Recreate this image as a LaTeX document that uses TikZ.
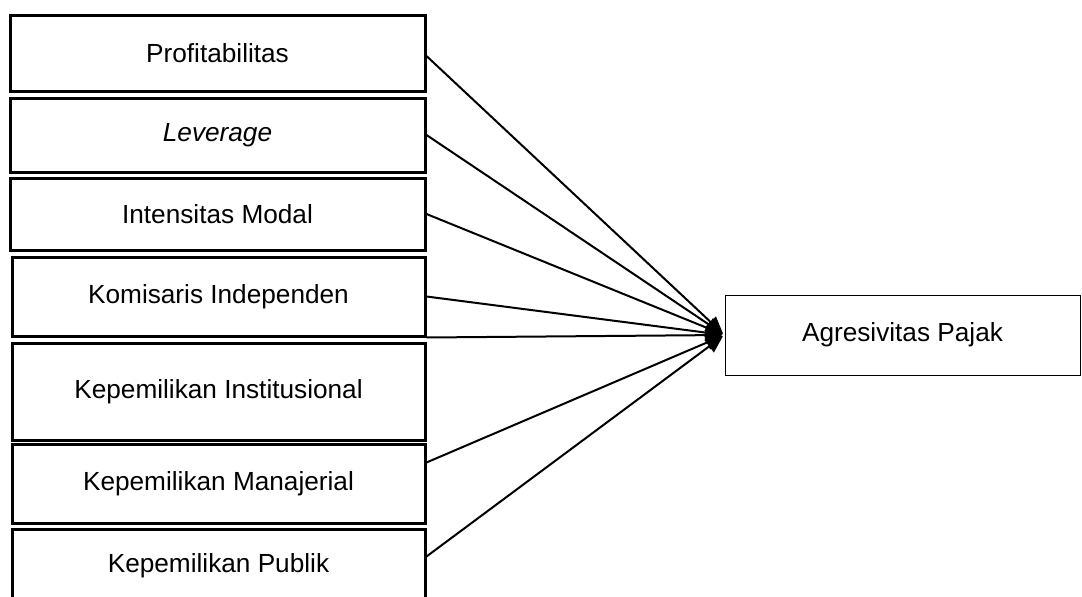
\documentclass[tikz,border=0pt]{standalone}
\usepackage{fontspec}
\setmainfont{Liberation Sans}
\usetikzlibrary{arrows.meta, positioning}
\tikzset{
  every picture/.style={x=1pt, y=-1pt, line width=2pt},
  box/.style={draw, line width=3pt, inner sep=0pt, align=center, font=\fontsize{26.2}{31}\selectfont},
  arrow/.style={-{Triangle[length=17pt, width=15pt]}, line width=2pt, shorten >=2pt},
}

\begin{document}
\begin{tikzpicture}
  \useasboundingbox (0,0) rectangle (1082,597);
  \foreach \nm/\xc/\bw/\yc/\bh/\txt in {prof/217.5/415/53/76/{Profitabilitas}, lev/217.5/415/135/74/{\textit{Leverage}},
                                        int/217.5/415/214/72/{Intensitas Modal}, kom/218.5/413/296.5/79/{Komisaris Independen},
                                        ins/218.5/413/391.5/97/{Kepemilikan Institusional}, man/218.5/413/483.5/79/{Kepemilikan Manajerial},
                                        pub/218.5/413/566/74/{Kepemilikan Publik}} {
    \node[box, minimum width=\bw pt, minimum height=\bh pt] (\nm) at (\xc, \yc) {\txt};
  }
  \node[box, line width=1pt, minimum width=355pt, minimum height=80pt] (agr) at (902.5, 335) {Agresivitas Pajak};
  \draw[arrow] ([yshift=-3pt]prof.east) -- (agr.west);
  \draw[arrow] (lev.east) -- (agr.west);
  \draw[arrow] (int.east) -- (agr.west);
  \draw[arrow] (kom.east) -- (agr.west);
  \draw[arrow] (kom.south east) -- (agr.west);
  \draw[arrow] ([yshift=-20pt]man.north east) -- (agr.west);
  \draw[arrow] ([yshift=-29pt]pub.north east) -- (agr.west);
\end{tikzpicture}
\end{document}
